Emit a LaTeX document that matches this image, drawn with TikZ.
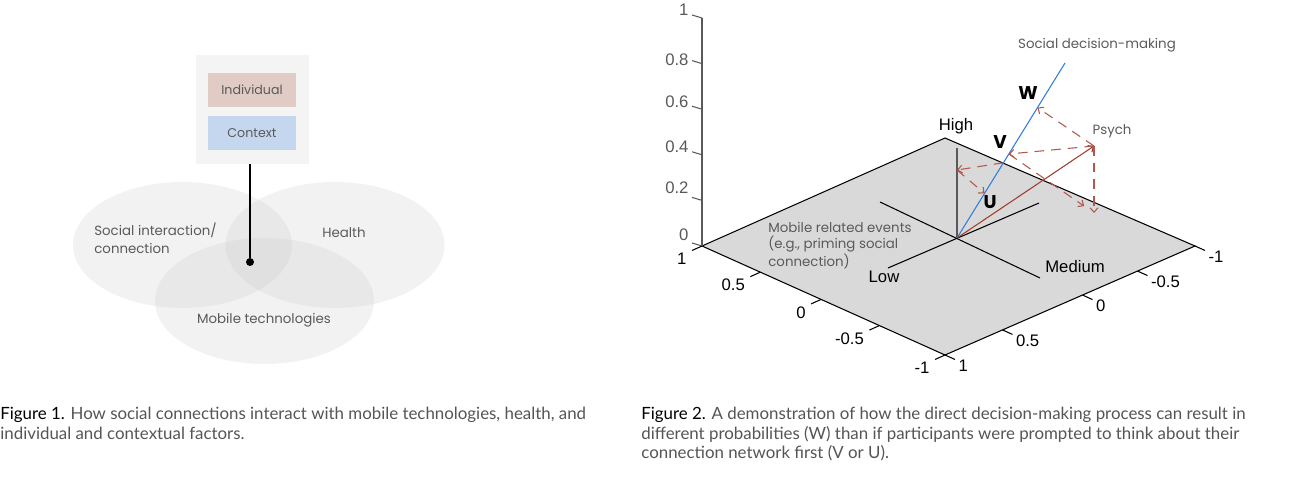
\documentclass[tikz,border=0pt]{standalone}
\usepackage{fontspec}
\setmainfont{Liberation Sans}
\newfontfamily\thinfont{Poppins}
\newfontfamily\capfont{Lato}
\usetikzlibrary{shapes.geometric}
\usetikzlibrary{arrows.meta}
\usetikzlibrary{calc}
\usetikzlibrary{positioning}

\definecolor{panelgray}{HTML}{F4F4F4}
\definecolor{indivred}{HTML}{E0CBC5}
\definecolor{ctxblue}{HTML}{C5D7EE}
\definecolor{blobgray}{HTML}{C7C7C7}
\definecolor{floorgray}{HTML}{D9D9D9}
\definecolor{decblue}{HTML}{2F7BE0}
\definecolor{psychred}{HTML}{A23B2C}
\definecolor{labelgray}{HTML}{5A5A5A}
\definecolor{capgray}{HTML}{555555}

\begin{document}
\begin{tikzpicture}[x=0.2mm, y=-0.2mm, >={Straight Barb[length=2.5pt,width=4.5pt]},
        blob/.style={ellipse, fill=blobgray, fill opacity=0.23, minimum width=43.8mm, minimum height=25.2mm, inner sep=0},
        softtext/.style={font=\thinfont\fontsize{7.6}{10.2}\selectfont, text=labelgray, align=left, inner sep=0},
        factor/.style={minimum width=17.6mm, minimum height=6.8mm, inner sep=0, font=\thinfont\fontsize{7.2}{9}\selectfont, text=labelgray},
        axlab/.style={font=\fontsize{9.5}{11}\selectfont, inner sep=0},
        veclab/.style={font=\thinfont\bfseries\fontsize{10.5}{12}\selectfont, inner sep=0},
        captext/.style={font=\capfont\fontsize{9.6}{11.4}\selectfont, text=capgray, inner sep=0, anchor=base west},
        proj/.style={->, psychred!85, line width=0.6pt, dash pattern=on 5.5pt off 4pt}]
        \useasboundingbox (0,0) rectangle (1311,483);

        % Figure 1
        \node[blob] (social) at (182.5,245) {};
        \node[blob] (health) at (335,245) {};
        \node[blob] (mobile) at (264.5,301) {};
        \node[softtext, anchor=west] (soclab) at (94,238) {Social interaction/\\connection};
        \node[softtext] (heallab) at (344,233) {Health};
        \node[softtext] (moblab) at (264,320) {Mobile technologies};

        \node[fill=panelgray, minimum width=22.6mm, minimum height=21.8mm, inner sep=0] (panel) at (252.5,109.5) {};
        \node[factor, fill=indivred] (indiv) at (252,90) {Individual};
        \node[factor, fill=ctxblue] (ctx) at (252,133) {Context};
        \node[circle, fill=black, inner sep=0, minimum size=1.6mm] (hub) at (250,262) {};
        \draw[line width=0.8pt] (panel.south -| hub) -- (hub);

        % Figure 2
        \coordinate (fl) at (702,246);
        \coordinate (ft) at (945,138);
        \coordinate (fr) at (1195,246);
        \coordinate (fb) at (945,355);
        \coordinate (za1) at (702,18);
        \coordinate (o) at (957,238);
        \coordinate (hi) at (957,148);
        \coordinate (lowend) at (888,268);
        \coordinate (lowback) at (1039,203);
        \coordinate (medend) at (1040,278);
        \coordinate (medback) at (880,202);
        \coordinate (sdm) at (1065,63);
        \coordinate (p) at (1094,146);
        \coordinate (f) at (1094,213);
        \coordinate (hl) at (957,170);
        \coordinate (w) at ($(o)!0.745!(sdm)$);
        \coordinate (v) at ($(o)!0.48!(sdm)$);
        \coordinate (vb) at ($(o)!0.43!(sdm)$);
        \coordinate (u) at ($(o)!0.255!(sdm)$);

        \fill[floorgray] (fl) -- (ft) -- (fr) -- (fb) -- cycle;
        \draw[line width=0.6pt] (fl) -- (ft) -- (fr) -- (fb) -- cycle;
        \draw[black!65, line width=1pt] (fl) -- (za1);

        \foreach \lab/\dy [count=\i] in {0/1.6,0.2/2.0,0.4/1.0,0.6/0.8,0.8/0.2,1/1.0}
          \draw[black!65, line width=0.6pt] ($(fl)!{(\i-1)/5}!(za1)$) -- ++(-10,-3)
            node[axlab, anchor=east, xshift=-0.6mm, yshift=\dy mm] (zt\i) {\lab};
        \foreach \lab/\t [count=\i] in {1/0,0.5/0.24,0/0.49,-0.5/0.73,-1/1}
          \draw[line width=0.6pt] ($(fl)!\t!(fb)$) -- ++(-10,4.5)
            node[axlab, anchor=north east, xshift=-1mm, yshift=-0.4mm] (xt\i) {\lab};
        \foreach \lab/\t [count=\i] in {1/0,0.5/0.23,0/0.55,-0.5/0.77,-1/1}
          \draw[line width=0.6pt] ($(fb)!\t!(fr)$) -- ++(10,4.5)
            node[axlab, anchor=north west, xshift=0.6mm, yshift=0mm] (yt\i) {\lab};

        \draw[line width=0.6pt] (lowend) -- (lowback);
        \draw[line width=0.6pt] (medback) -- (medend);
        \draw[black!65, line width=1.1pt] (o) -- (hi);
        \draw[decblue, line width=0.6pt] (o) -- (sdm);
        \draw[->, psychred, line width=0.6pt] (o) -- (p);

        \draw[proj] (p) -- (w);
        \draw[proj] (p) -- (v);
        \draw[proj] (p) -- (f);
        \draw[proj, shorten >=2.4mm] (v) -- (f);
        \draw[proj] (vb) -- (hl);
        \draw[proj] (hl) -- (u);

        \node[softtext] (sdmlab) at (1097,45) {Social decision-making};
        \node[softtext] (psychlab) at (1112,131) {Psych};
        \node[softtext, anchor=west, font=\thinfont\fontsize{7.6}{9.1}\selectfont] (evlab) at (768,246) {Mobile related events\\(e.g., priming social\\connection)};
        \node[veclab] (wlab) at (1028,93) {W};
        \node[veclab] (vlab) at (1000,142) {V};
        \node[veclab] (ulab) at (990,202) {U};
        \node[axlab] (highlab) at (956,126) {High};
        \node[axlab] (lowlab) at (884,277) {Low};
        \node[axlab] (medlab) at (1075,267) {Medium};

        % captions
        \node[captext] (cap1a) at (0,419) {\textcolor{black}{Figure 1.} How social connections interact with mobile technologies, health, and};
        \node[captext] (cap1b) at (0,439) {individual and contextual factors.};
        \node[captext] (cap2a) at (641,419) {\textcolor{black}{Figure 2.} A demonstration of how the direct decision-making process can result in};
        \node[captext] (cap2b) at (641,439) {different probabilities (W) than if participants were prompted to think about their};
        \node[captext] (cap2c) at (641,458) {connection network first (V or U).};
      \end{tikzpicture}
\end{document}
